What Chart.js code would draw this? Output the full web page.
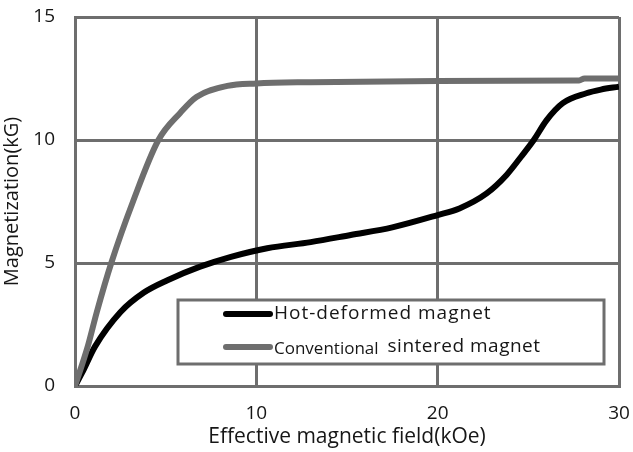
<!DOCTYPE html>
<html>
<head>
<meta charset="utf-8">
<script src="https://cdn.jsdelivr.net/npm/chart.js@4"></script>
<style>
  body { margin: 0; background: #fff; }
  canvas { display: block; }
</style>
</head>
<body>
<canvas id="chart" width="633" height="452"></canvas>
<script>
// Hot-deformed magnet (black)
const hotX = [0, 0.4, 1.1, 2.5, 3.8, 5.1, 6.9, 8.6, 10.6, 13, 15.2, 17.5, 20, 21.2, 22.7, 23.8, 24.6, 25.3, 26, 26.9, 28.2, 29, 30];
const hotY = [0, 0.55, 1.6, 3.0, 3.8, 4.3, 4.85, 5.25, 5.6, 5.85, 6.14, 6.45, 6.95, 7.22, 7.83, 8.58, 9.32, 10.0, 10.8, 11.5, 11.9, 12.05, 12.17];

// Conventional sintered magnet (gray)
const sintX = [0, 0.7, 1.2, 2.0, 3.2, 4.6, 5.8, 6.7, 8.4, 10, 13, 20, 27.8, 28.1, 30];
const sintY = [0, 1.6, 3.0, 5.0, 7.5, 10.0, 11.1, 11.75, 12.2, 12.3, 12.35, 12.4, 12.42, 12.5, 12.5];

const seriesNames = ['Hot-deformed magnet', 'Conventional sintered magnet'];

const gridColor = '#6e6e6e';
const textColor = '#161616';
const fontFam = '"Open Sans", "DejaVu Sans", sans-serif';

function pairs(xs, ys) {
    return xs.map((x, i) => ({ x: x, y: ys[i] }));
}

// legend drawn inside the plot, lower right
const boxLegend = {
    id: 'boxLegend',
    afterDatasetsDraw(chart) {
        const ctx = chart.ctx;
        const a = chart.chartArea;
        const x0 = a.left + 103, y0 = a.top + 283, w = 426, h = 64;
        ctx.save();
        ctx.fillStyle = '#fff';
        ctx.fillRect(x0, y0, w, h);
        ctx.strokeStyle = gridColor;
        ctx.lineWidth = 3;
        ctx.strokeRect(x0, y0, w, h);

        const rows = [
            { color: '#000', y: y0 + 14 },
            { color: gridColor, y: y0 + 47 }
        ];
        ctx.lineCap = 'round';
        rows.forEach(r => {
            ctx.strokeStyle = r.color;
            ctx.lineWidth = 6;
            ctx.beginPath();
            ctx.moveTo(x0 + 48, r.y);
            ctx.lineTo(x0 + 92, r.y);
            ctx.stroke();
        });

        ctx.fillStyle = textColor;
        ctx.textBaseline = 'middle';
        ctx.textAlign = 'left';
        ctx.letterSpacing = '1px';
        ctx.font = '19px ' + fontFam;
        ctx.fillText(seriesNames[0], x0 + 96, rows[0].y);
        // the reference mixes two font sizes on the second line
        ctx.font = '17px ' + fontFam;
        ctx.letterSpacing = '0px';
        const first = 'Conventional';
        ctx.fillText(first, x0 + 96, rows[1].y + 2);
        const w1 = ctx.measureText(first).width;
        ctx.font = '19px ' + fontFam;
        ctx.letterSpacing = '0.5px';
        ctx.fillText(seriesNames[1].replace(first, '').trim(), x0 + 96 + w1 + 9, rows[1].y);
        ctx.restore();
    }
};

const ctx = document.getElementById('chart').getContext('2d');
new Chart(ctx, {
    type: 'line',
    data: {
        datasets: [
            {
                label: seriesNames[1],
                data: pairs(sintX, sintY),
                borderColor: gridColor,
                borderWidth: 6,
                pointRadius: 0,
                cubicInterpolationMode: 'monotone',
                fill: false
            },
            {
                label: seriesNames[0],
                data: pairs(hotX, hotY),
                borderColor: '#000',
                borderWidth: 6,
                pointRadius: 0,
                cubicInterpolationMode: 'monotone',
                fill: false
            }
        ]
    },
    options: {
        responsive: false,
        animation: false,
        layout: { padding: { top: 17, right: 14, left: 0, bottom: 0 } },
        plugins: {
            legend: { display: false },
            tooltip: { enabled: false }
        },
        scales: {
            x: {
                type: 'linear',
                min: 0,
                max: 30,
                afterFit(s) { s.height = 66; },
                grid: { color: gridColor, lineWidth: 3, drawTicks: true, tickLength: 16, tickColor: 'rgba(0,0,0,0)' },
                border: { color: gridColor, width: 3 },
                ticks: {
                    stepSize: 10,
                    padding: 0,
                    color: textColor,
                    font: { family: fontFam, size: 19 }
                },
                title: {
                    display: true,
                    text: 'Effective magnetic field(kOe)',
                    color: textColor,
                    padding: { top: 0, bottom: 2 },
                    font: { family: fontFam, size: 21 }
                }
            },
            y: {
                min: 0,
                max: 15,
                afterFit(s) { s.width = 75; },
                grid: { color: gridColor, lineWidth: 3, drawTicks: true, tickLength: 20, tickColor: 'rgba(0,0,0,0)' },
                border: { color: gridColor, width: 3 },
                ticks: {
                    stepSize: 5,
                    padding: 0,
                    color: textColor,
                    font: { family: fontFam, size: 19 }
                },
                title: {
                    display: true,
                    text: 'Magnetization(kG)',
                    color: textColor,
                    padding: { top: 0, bottom: 0 },
                    font: { family: fontFam, size: 20 }
                }
            }
        }
    },
    plugins: [boxLegend]
});
</script>
</body>
</html>
